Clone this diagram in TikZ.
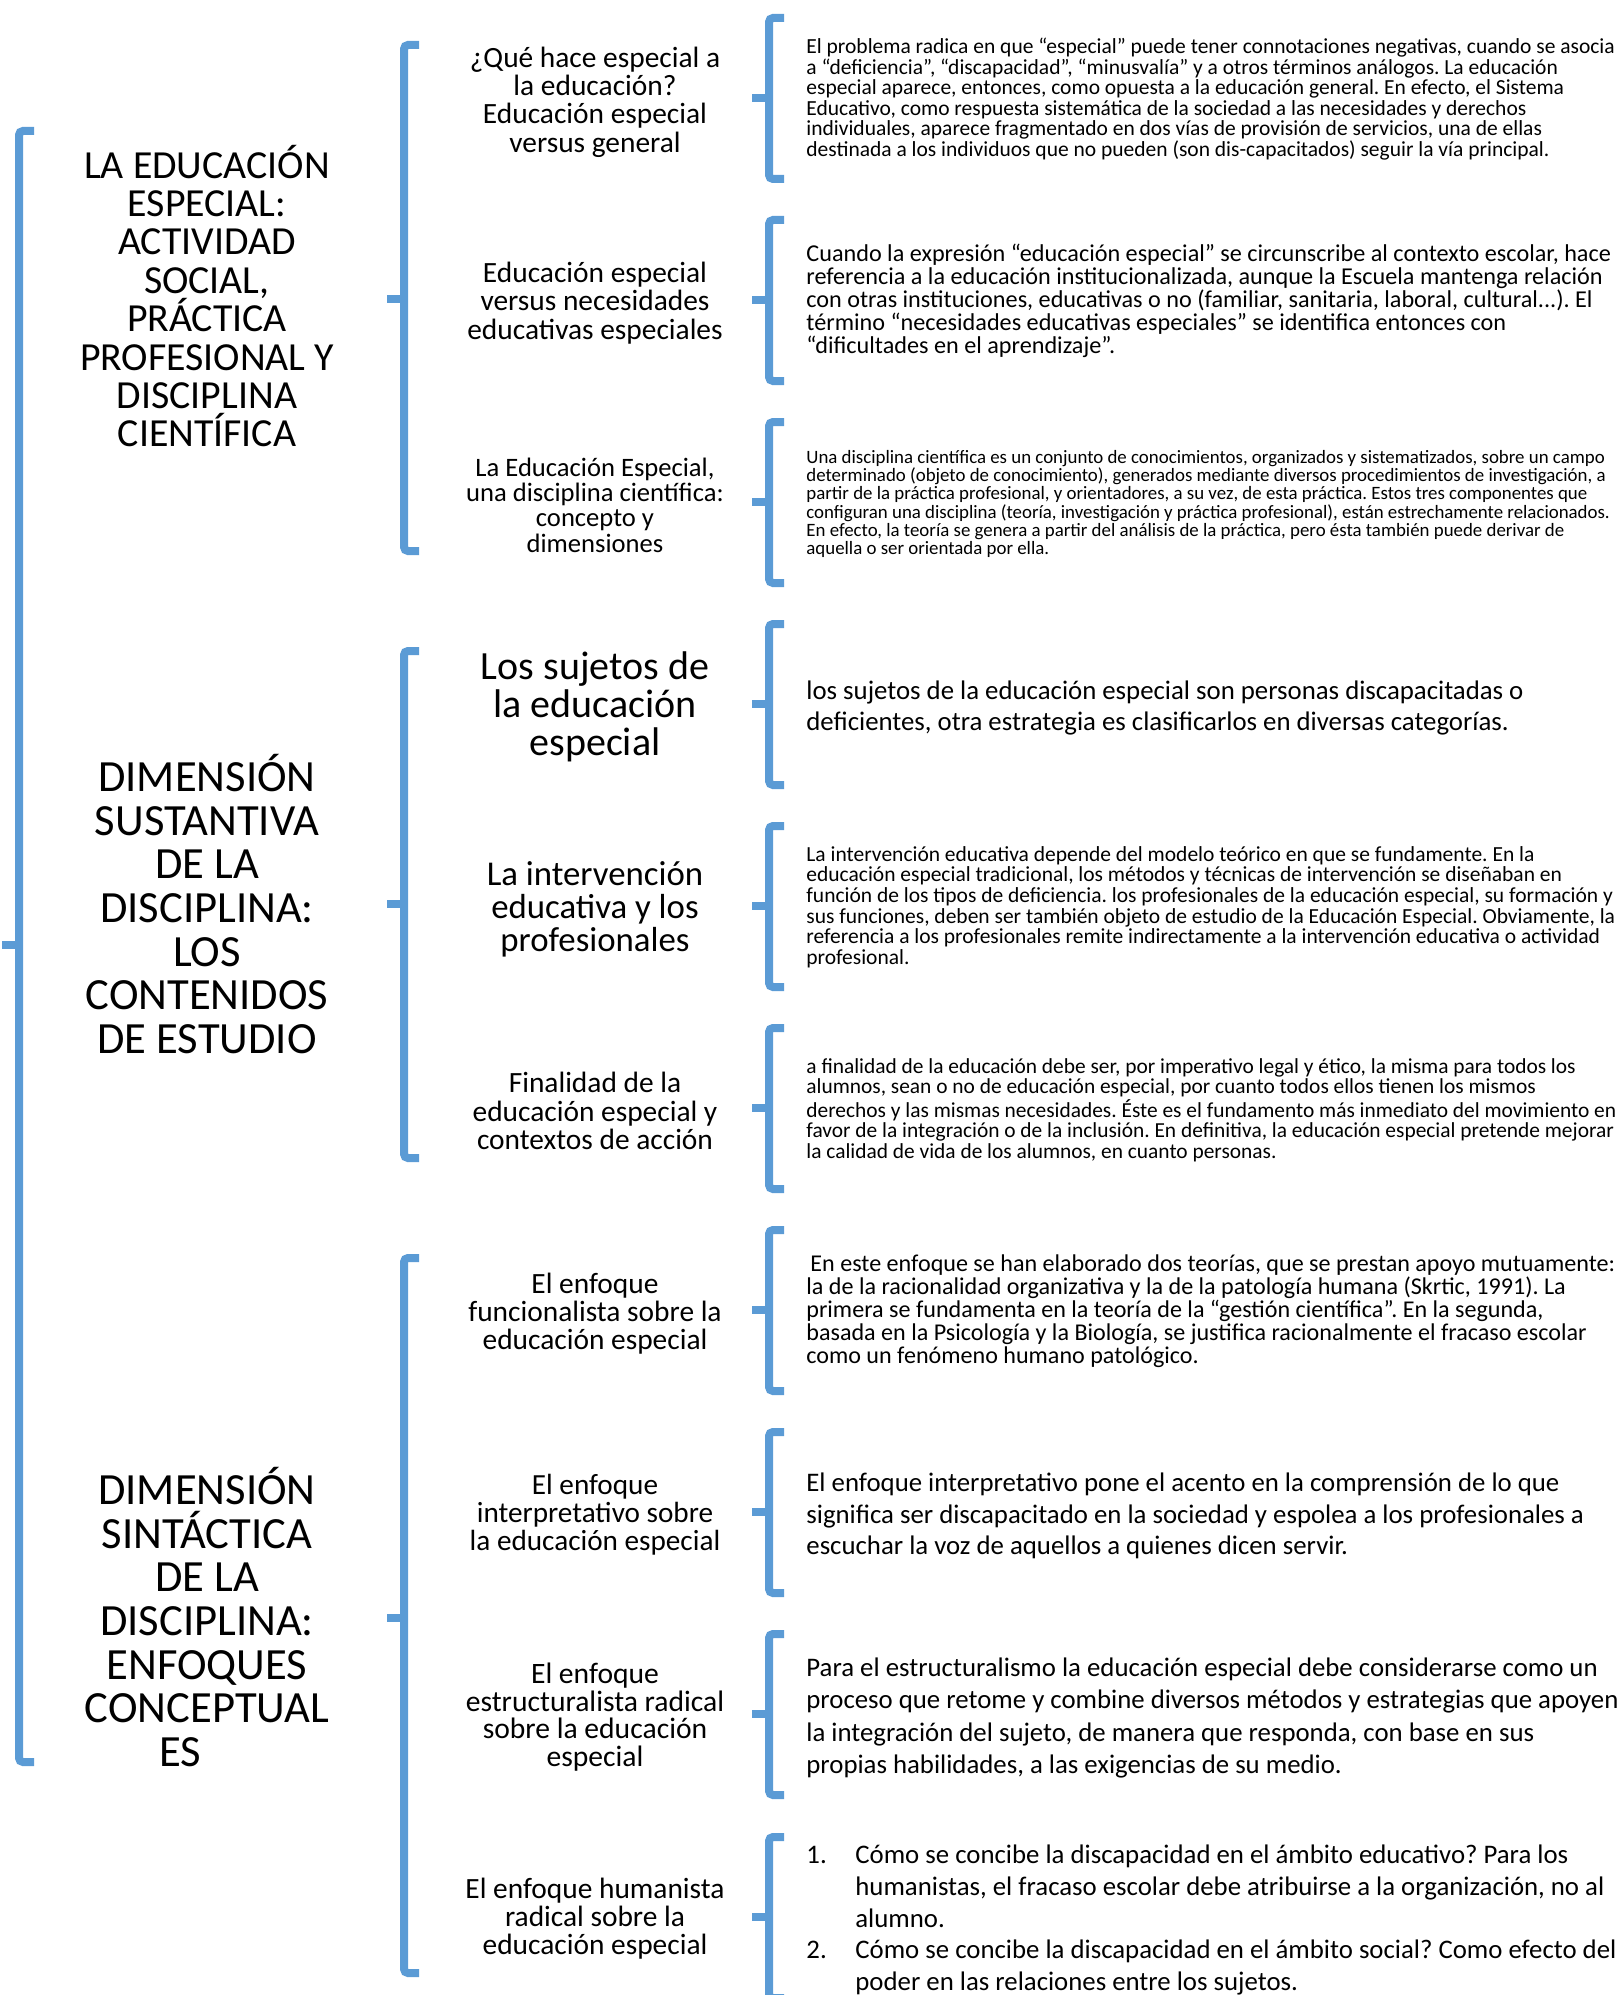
\documentclass[tikz,border=0pt]{standalone}
\usepackage{fontspec}
\setmainfont{Carlito}
\definecolor{azulllave}{RGB}{91,155,213}
% llave: x, arriba, abajo, punta
\newcommand{\llave}[4]{%
  \draw[llave] (#1+15,#2) -- (#1,#2) -- (#1,#3) -- (#1+15,#3);
  \draw[llave] (#1,#4) -- (#1-17,#4);}
\newcommand{\fs}[2]{\fontsize{#1}{#2}\selectfont}

\begin{document}
\frenchspacing
\begin{tikzpicture}[x=0.5pt,y=-0.5pt,
    llave/.style={draw=azulllave,line width=4pt,rounded corners=2pt},
    titulo/.style={align=center,inner sep=0pt,font=\fs{22.3}{21.8}},
    tema/.style={align=center,inner sep=0pt,font=\fs{14.7}{14.2}},
    texto/.style={anchor=west,align=left,inner sep=0pt}]
    \useasboundingbox (0,0) rectangle (1623,1995);

    % llaves
    \llave{19}{131}{1762}{945}
    \llave{404}{45}{551}{299}
    \llave{404}{651}{1158}{904}
    \llave{404}{1258}{1973}{1618}
    \llave{769}{18}{179}{98}
    \llave{769}{220}{381}{300}
    \llave{769}{422}{583}{502}
    \llave{769}{624}{785}{704}
    \llave{769}{826}{987}{906}
    \llave{769}{1028}{1189}{1108}
    \llave{769}{1230}{1391}{1310}
    \llave{769}{1432}{1593}{1512}
    \llave{769}{1634}{1795}{1714}
    \llave{769}{1837}{1998}{1917}

    % titulos
    \node[titulo,font=\fs{19.9}{19.2}] (t1) at (207,296) {LA EDUCACIÓN\\ESPECIAL:\\ACTIVIDAD\\SOCIAL,\\PRÁCTICA\\PROFESIONAL Y\\DISCIPLINA\\CIENTÍFICA};
    \node[titulo] (t2) at (207,904) {DIMENSIÓN\\SUSTANTIVA\\DE LA\\DISCIPLINA:\\LOS\\CONTENIDOS\\DE ESTUDIO};
    \node[titulo] (t3) at (207,1617) {DIMENSIÓN\\SINTÁCTICA\\DE LA\\DISCIPLINA:\\ENFOQUES\\CONCEPTUAL\\ES\hspace*{26.8pt}};

    % temas
    \node[tema] (s1) at (595,102) {¿Qué hace especial a\\la educación?\\Educación especial\\versus general};
    \node[tema,font=\fs{14.7}{14.3}] (s2) at (595,303) {Educación especial\\versus necesidades\\educativas especiales};
    \node[tema,font=\fs{13.3}{12.7}] (s3) at (595,505) {La Educación Especial,\\una disciplina científica:\\concepto y\\dimensiones};
    \node[tema,font=\fs{20}{19}] (s4) at (595,707) {Los sujetos de\\la educación\\especial};
    \node[tema,font=\fs{17.4}{16.5}] (s5) at (595,909) {La intervención\\educativa y los\\profesionales};
    \node[tema,font=\fs{14.7}{14.3}] (s6) at (595,1111) {Finalidad de la\\educación especial y\\contextos de acción};
    \node[tema,font=\fs{14.7}{14}] (s7) at (595,1314) {El enfoque\\funcionalista sobre la\\educación especial};
    \node[tema,font=\fs{14.6}{14}] (s8) at (595,1515) {El enfoque\\interpretativo sobre\\la educación especial};
    \node[tema,font=\fs{14.8}{13.8}] (s9) at (595,1717) {El enfoque\\estructuralista radical\\sobre la educación\\especial};
    \node[tema,font=\fs{14.7}{14}] (s10) at (595,1919) {El enfoque humanista\\radical sobre la\\educación especial};

    % textos
    \node[texto,font=\fs{10.75}{10.3}] (d1) at (806,99) {El problema radica en que “especial” puede tener connotaciones negativas, cuando se asocia\\a “deficiencia”, “discapacidad”, “minusvalía” y a otros términos análogos. La educación\\especial aparece, entonces, como opuesta a la educación general. En efecto, el Sistema\\Educativo, como respuesta sistemática de la sociedad a las necesidades y derechos\\individuales, aparece fragmentado en dos vías de provisión de servicios, una de ellas\\destinada a los individuos que no pueden (son dis-capacitados) seguir la vía principal.};
    \node[texto,font=\fs{12.1}{11.45}] (d2) at (806,301) {Cuando la expresión “educación especial” se circunscribe al contexto escolar, hace\\referencia a la educación institucionalizada, aunque la Escuela mantenga relación\\con otras instituciones, educativas o no (familiar, sanitaria, laboral, cultural...). El\\término “necesidades educativas especiales” se identifica entonces con\\“dificultades en el aprendizaje”.};
    \node[texto,font=\fs{9.43}{9.05}] (d3) at (806,504) {Una disciplina científica es un conjunto de conocimientos, organizados y sistematizados, sobre un campo\\determinado (objeto de conocimiento), generados mediante diversos procedimientos de investigación, a\\partir de la práctica profesional, y orientadores, a su vez, de esta práctica. Estos tres componentes que\\configuran una disciplina (teoría, investigación y práctica profesional), están estrechamente relacionados.\\En efecto, la teoría se genera a partir del análisis de la práctica, pero ésta también puede derivar de\\aquella o ser orientada por ella.};
    \node[texto,font=\fs{13.4}{15.9}] (d4) at (806,708) {los sujetos de la educación especial son personas discapacitadas o\\deficientes, otra estrategia es clasificarlos en diversas categorías.};
    \node[texto,font=\fs{10.75}{10.3}] (d5) at (806,907) {La intervención educativa depende del modelo teórico en que se fundamente. En la\\educación especial tradicional, los métodos y técnicas de intervención se diseñaban en\\función de los tipos de deficiencia. los profesionales de la educación especial, su formación y\\sus funciones, deben ser también objeto de estudio de la Educación Especial. Obviamente, la\\referencia a los profesionales remite indirectamente a la intervención educativa o actividad\\profesional.};
    \node[texto,font=\fs{10.7}{10.35}] (d6) at (806,1110) {a finalidad de la educación debe ser, por imperativo legal y ético, la misma para todos los\\alumnos, sean o no de educación especial, por cuanto todos ellos tienen los mismos\\derechos y las mismas necesidades. Éste es el fundamento más inmediato del movimiento en\\favor de la integración o de la inclusión. En definitiva, la educación especial pretende mejorar\\la calidad de vida de los alumnos, en cuanto personas.};
    \node[texto,font=\fs{12.05}{11.45}] (d7) at (806,1311) {\hspace*{2pt}En este enfoque se han elaborado dos teorías, que se prestan apoyo mutuamente:\\la de la racionalidad organizativa y la de la patología humana (Skrtic, 1991). La\\primera se fundamenta en la teoría de la “gestión científica”. En la segunda,\\basada en la Psicología y la Biología, se justifica racionalmente el fracaso escolar\\como un fenómeno humano patológico.};
    \node[texto,font=\fs{13.4}{15.9}] (d8) at (806,1516) {El enfoque interpretativo pone el acento en la comprensión de lo que\\significa ser discapacitado en la sociedad y espolea a los profesionales a\\escuchar la voz de aquellos a quienes dicen servir.};
    \node[texto,font=\fs{13.4}{16.1}] (d9) at (806,1718) {Para el estructuralismo la educación especial debe considerarse como un\\proceso que retome y combine diversos métodos y estrategias que apoyen\\la integración del sujeto, de manera que responda, con base en sus\\propias habilidades, a las exigencias de su medio.};
    \node[texto,font=\fs{13.4}{15.9}] (d10) at (806,1920) {\makebox[24.5pt][l]{1.}Cómo se concibe la discapacidad en el ámbito educativo? Para los\\\hspace*{24.5pt}humanistas, el fracaso escolar debe atribuirse a la organización, no al\\\hspace*{24.5pt}alumno.\\\makebox[24.5pt][l]{2.}Cómo se concibe la discapacidad en el ámbito social? Como efecto del\\\hspace*{24.5pt}poder en las relaciones entre los sujetos.};
\end{tikzpicture}
\end{document}
